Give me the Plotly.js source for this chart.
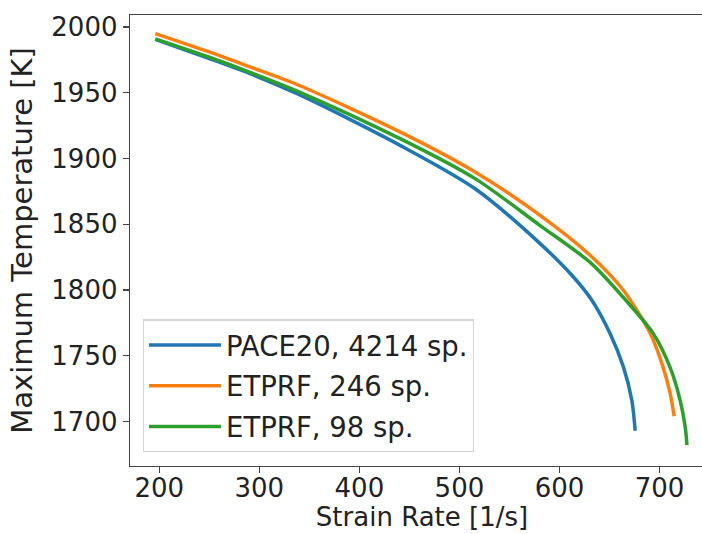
<!DOCTYPE html>
<html>
<head>
<meta charset="utf-8">
<script src="https://cdn.plot.ly/plotly-3.0.1.min.js"></script>
<style>
html,body{margin:0;padding:0;overflow:hidden;background:#fff;}
#chart{width:720px;height:534px;}
</style>
</head>
<body>
<div id="chart"></div>
<script>
const seriesNames = ["PACE20, 4214 sp.", "ETPRF, 246 sp.", "ETPRF, 98 sp."];

const paceRate = [196, 250, 290.7, 340, 440.7, 515.7, 580.7, 614, 632.4, 650.7, 664, 672.4, 675.7];
const paceTemp = [1990.5, 1976, 1964.5, 1948.5, 1910, 1877, 1835.3, 1809.9, 1792.2, 1766.8, 1741.4, 1716, 1693];

const etprf246Rate = [196, 250, 290.7, 340, 440.7, 515.7, 580.7, 630.7, 663.7, 690.7, 703.7, 710.7, 714.7];
const etprf246Temp = [1995, 1981, 1969.6, 1955.5, 1920.2, 1889.7, 1856.8, 1826.4, 1800, 1767.1, 1741.2, 1721.4, 1704];

const etprf98Rate = [196, 250, 290.7, 340, 440.7, 515.7, 580.7, 630.7, 663.7, 693.7, 710.7, 720.7, 725.7, 727.5];
const etprf98Temp = [1991, 1977, 1965.5, 1950.5, 1915.1, 1884.7, 1849, 1821, 1794.5, 1767, 1741, 1716, 1696, 1682];

const xTicks = [200, 300, 400, 500, 600, 700];
const yTicks = [1700, 1750, 1800, 1850, 1900, 1950, 2000];

const colors = ["#1f77b4", "#ff7f0e", "#2ca02c"];
const xs = [paceRate, etprf246Rate, etprf98Rate];
const ys = [paceTemp, etprf246Temp, etprf98Temp];

const traces = seriesNames.map((n, i) => ({
  x: xs[i], y: ys[i], name: n, type: "scatter", mode: "lines",
  line: {color: colors[i], width: 3.5, shape: "spline", smoothing: 0.8},
  legendgroup: "g" + i
}));

const font = {family: "DejaVu Sans, sans-serif", size: 26, color: "#222"};

const layout = {
  width: 720, height: 534,
  margin: {l: 130, r: 6, t: 15, b: 68},
  paper_bgcolor: "#fff", plot_bgcolor: "#fff",
  font: font,
  showlegend: true,
  legend: {
    x: 0.022, y: 0.325, xanchor: "left", yanchor: "top",
    bgcolor: "#fff", bordercolor: "#d4d4d4", borderwidth: 1.2,
    font: {family: "DejaVu Sans, sans-serif", size: 27.5, color: "#222"},
    traceorder: "grouped", tracegroupgap: 2, itemwidth: 72
  },
  xaxis: {
    range: [170.7, 754.5],
    tickvals: xTicks, ticktext: xTicks.map(String),
    showgrid: false, zeroline: false,
    showline: true, mirror: true, linecolor: "#444", linewidth: 1.3,
    ticks: "outside", ticklen: 6, tickwidth: 1.3, tickcolor: "#444",
    tickfont: font, ticklabelstandoff: -8,
    title: {text: "Strain Rate [1/s]", font: font, standoff: 4}
  },
  yaxis: {
    range: [1666.2, 2009.1],
    tickvals: yTicks, ticktext: yTicks.map(String),
    showgrid: false, zeroline: false,
    showline: true, mirror: true, linecolor: "#444", linewidth: 1.3,
    ticks: "outside", ticklen: 6, tickwidth: 1.3, tickcolor: "#444",
    tickfont: font,
    title: {text: "Maximum Temperature [K]", font: {family: "DejaVu Sans, sans-serif", size: 29, color: "#222"}, standoff: 10}
  }
};

Plotly.newPlot("chart", traces, layout, {displayModeBar: false, staticPlot: true});
</script>
</body>
</html>
